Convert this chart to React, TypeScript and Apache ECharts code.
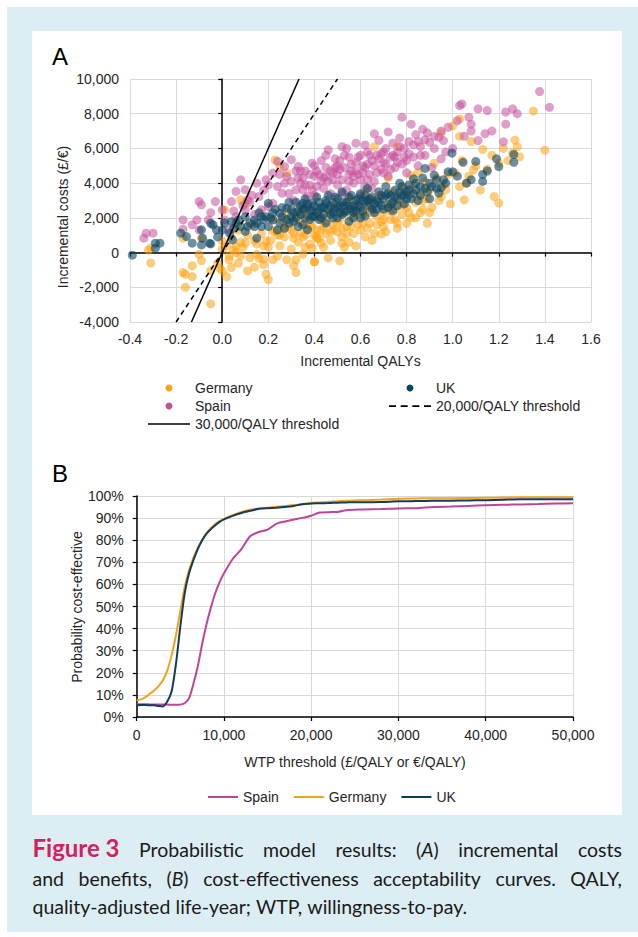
import React, { useEffect, useRef } from "react";
import * as echarts from "echarts";

// ---------- Panel A data: incremental QALYs vs incremental costs ----------
const germanyPoints: number[][] = [
  [-0.32,150],[-0.31,-600],[-0.31,270],[-0.17,830],[-0.17,-1150],[-0.16,-1250],[-0.16,-2000],[-0.13,-1380],[-0.13,-760],[-0.1,-100],
  [-0.09,-460],[-0.09,830],[-0.05,-1040],[-0.05,-2950],[-0.02,-610],[-0.01,-900],[0.0,190],[0.0,670],[0.0,-1060],[0.01,2460],
  [0.02,-1380],[0.02,400],[0.03,-420],[0.03,-190],[0.04,-860],[0.04,900],[0.05,150],[0.06,350],[0.06,0],[0.07,-610],
  [0.07,1300],[0.08,-190],[0.08,3040],[0.09,300],[0.1,560],[0.1,2840],[0.11,-1060],[0.11,1000],[0.12,-300],[0.13,1600],
  [0.14,-840],[0.15,-100],[0.15,500],[0.16,-340],[0.17,1100],[0.18,380],[0.18,-380],[0.18,-700],[0.19,670],[0.19,-1250],
  [0.2,-1570],[0.21,700],[0.22,-420],[0.22,1220],[0.22,1900],[0.23,1300],[0.23,5340],[0.24,1020],[0.24,-200],[0.25,400],
  [0.25,4960],[0.26,1800],[0.27,900],[0.27,1400],[0.28,-420],[0.28,2200],[0.28,4580],[0.29,1500],[0.3,200],[0.31,1100],
  [0.31,830],[0.31,-760],[0.32,-420],[0.32,-1150],[0.33,600],[0.33,2500],[0.34,1700],[0.34,1120],[0.35,-100],[0.36,1000],
  [0.36,300],[0.37,2100],[0.37,1400],[0.38,500],[0.39,1500],[0.39,250],[0.4,-540],[0.4,-520],[0.41,1300],[0.41,930],
  [0.41,830],[0.42,800],[0.42,2100],[0.43,1900],[0.43,540],[0.44,300],[0.44,1500],[0.45,1100],[0.46,2300],[0.46,-300],
  [0.47,700],[0.48,1600],[0.48,1320],[0.49,2700],[0.5,1200],[0.51,1900],[0.51,-480],[0.52,900],[0.52,540],[0.53,2400],
  [0.53,300],[0.54,1500],[0.55,600],[0.55,3100],[0.56,2000],[0.57,1100],[0.58,2800],[0.58,380],[0.59,1600],[0.6,1300],
  [0.61,2200],[0.62,900],[0.62,3500],[0.63,2600],[0.63,1400],[0.64,1700],[0.65,3000],[0.65,700],[0.66,1100],[0.66,6100],
  [0.67,2100],[0.68,3300],[0.69,1800],[0.69,1070],[0.7,2300],[0.7,1500],[0.71,1200],[0.72,2800],[0.72,4300],[0.73,1900],
  [0.74,3500],[0.75,2500],[0.76,1400],[0.76,1690],[0.76,6100],[0.77,3000],[0.78,2200],[0.79,3700],[0.8,2600],[0.8,1690],
  [0.81,3300],[0.82,2000],[0.82,4450],[0.83,3900],[0.84,2900],[0.85,4600],[0.86,3400],[0.86,2300],[0.87,2500],[0.88,4100],
  [0.89,3100],[0.89,1690],[0.9,3600],[0.91,2600],[0.92,5150],[0.93,4300],[0.94,3000],[0.95,3230],[0.95,6900],[0.96,3900],
  [0.97,3620],[0.98,4500],[0.99,2800],[1.0,7300],[1.01,4600],[1.03,3800],[1.03,6700],[1.03,7700],[1.04,5300],[1.05,3040],
  [1.06,4000],[1.07,4400],[1.08,6400],[1.09,4770],[1.1,5000],[1.12,3600],[1.13,5950],[1.15,4800],[1.17,5600],[1.18,3230],
  [1.2,2850],[1.2,5150],[1.22,6000],[1.24,5300],[1.26,5750],[1.27,6480],[1.28,6100],[1.29,5520],[1.35,8150],[1.4,5900],
  [0.3,1300],[0.32,1900],[0.35,900],[0.38,1600],[0.4,1000],[0.43,1300],[0.45,1800],[0.47,1200],[0.5,1700],[0.52,1400],
  [0.54,1100],[0.56,1500],[0.59,2200],[0.61,1700],[0.64,2300],[0.67,1600],[0.7,1900],[0.73,2400],[0.75,1900],[0.78,2700],
  [0.81,2300],[0.84,2000],[0.87,3000],[0.9,2300],[0.25,1000],[0.2,300],[0.14,700],[0.08,600],[0.35,2200],[0.57,2400]
];

const spainPoints: number[][] = [
  [-0.34,830],[-0.33,1120],[-0.3,1120],[-0.17,1880],[-0.17,1350],[-0.13,1600],[-0.1,2940],[-0.09,2750],[-0.11,1880],[-0.1,1300],
  [-0.06,1880],[-0.03,2940],[0.0,2460],[0.04,2940],[0.01,1880],[0.03,1300],[0.06,2070],[0.08,4190],[0.06,3520],[0.1,3620],
  [0.11,3040],[0.1,2460],[0.15,4000],[0.16,3230],[0.19,4190],[0.24,5250],[0.27,4960],[0.3,5350],[0.22,4580],[0.28,4390],
  [0.33,4960],[0.34,4000],[0.39,5150],[0.4,4390],[0.32,3620],[0.26,3420],[0.22,2840],[0.2,2650],[0.17,2460],[0.37,3230],
  [0.41,3810],[0.37,2650],[0.31,3000],[0.33,4300],[0.35,3600],[0.36,4700],[0.38,3900],[0.4,3300],[0.42,4500],[0.43,5300],
  [0.44,3700],[0.45,4900],[0.46,4100],[0.46,5920],[0.47,3400],[0.48,4600],[0.49,5400],[0.5,3900],[0.51,4800],[0.52,4200],
  [0.53,5600],[0.54,6000],[0.54,3600],[0.55,4500],[0.56,5100],[0.57,4000],[0.58,6300],[0.58,4700],[0.59,5500],[0.6,4200],
  [0.61,5000],[0.62,3800],[0.63,5800],[0.64,4500],[0.65,5300],[0.66,6840],[0.66,4100],[0.67,5600],[0.68,6470],[0.69,4800],
  [0.7,5200],[0.71,6000],[0.72,6950],[0.72,4400],[0.73,5500],[0.74,6300],[0.75,4900],[0.76,5800],[0.77,6600],[0.78,7800],
  [0.78,5100],[0.79,6000],[0.8,4600],[0.81,6400],[0.82,7400],[0.83,5500],[0.84,6800],[0.85,5000],[0.86,6100],[0.87,7100],
  [0.88,5600],[0.9,6350],[0.91,4900],[0.92,6000],[0.94,6650],[0.95,5400],[0.96,6450],[0.98,7220],[1.0,6000],[1.03,8470],
  [1.04,8560],[1.07,7800],[1.08,7400],[1.08,7000],[1.11,8280],[1.11,6450],[1.14,6850],[1.15,8180],[1.17,7000],[1.22,6380],
  [1.23,7400],[1.23,8100],[1.26,8280],[1.28,8000],[1.377,9280],[1.42,8370],[1.05,6700],[1.02,7600],[0.97,5800],[0.89,6900],
  [0.5,5000],[0.44,4300],[0.4,5000],[0.36,3900],[0.52,3400],[0.57,4400],[0.6,3300],[0.62,4900],[0.65,3700],[0.69,5700],
  [0.75,5500],[0.8,5300],[0.24,3800],[0.29,3400],[0.18,3600],[0.12,2900],[0.14,2200],[0.05,2400],[0.27,4000],[0.34,4700],
  [0.47,4700],[0.55,5500],[0.63,4200],[0.7,4600],[0.85,6400],
  [0.3,4100],[0.32,4700],[0.35,4300],[0.38,4500],[0.39,3600],[0.41,4700],[0.43,4100],[0.45,4400],[0.48,4200],[0.49,4900],
  [0.5,4500],[0.51,5300],[0.53,4900],[0.55,4100],[0.56,4700],[0.58,5200],[0.59,4500],[0.6,5600],[0.61,4600],[0.63,5100],
  [0.64,5600],[0.66,5000],[0.67,4600],[0.68,5400],[0.7,5800],[0.71,5100],[0.73,4800],[0.74,5600],[0.76,5200],[0.77,6100],
  [0.79,5500],[0.81,5700],[0.83,6200],[0.86,5600],[0.88,6500],[0.92,6700],[0.95,7000],[0.2,3900],[0.25,4500],[0.13,3300],
  [0.09,2700],[-0.05,2300],[0.45,5600],[0.52,6100],[0.62,6200]
];

const ukPoints: number[][] = [
  [-0.39,-150],[-0.29,250],[-0.29,540],[-0.27,540],[-0.18,1120],[-0.155,920],[-0.13,540],[-0.09,1310],[-0.085,830],[-0.09,440],
  [-0.055,540],[-0.05,500],[-0.05,1690],[-0.04,1600],[-0.025,1310],[0.0,1300],[0.01,1700],[0.032,1120],[0.04,1780],[0.045,730],
  [0.06,1690],[0.07,1880],[0.1,2070],[0.1,1220],[0.14,1500],[0.14,1880],[0.15,830],[0.17,2070],[0.17,1500],[0.19,2070],
  [0.2,2840],[0.22,1880],[0.24,1300],[0.25,2260],[0.26,2070],[0.28,2550],[0.29,1700],[0.3,2460],[0.3,2070],[0.33,2360],
  [0.35,2840],[0.36,2550],[0.37,1310],[0.39,2840],[0.39,2070],[0.4,2070],[0.42,2460],[0.45,2840],[0.31,1800],[0.32,2900],
  [0.34,2200],[0.35,1600],[0.36,3100],[0.38,2400],[0.4,2700],[0.41,3200],[0.43,2000],[0.44,2600],[0.46,3300],[0.47,2200],
  [0.48,2900],[0.49,2500],[0.5,3100],[0.5,2000],[0.51,2700],[0.52,3500],[0.53,2300],[0.54,2900],[0.55,3200],[0.56,2500],
  [0.57,2000],[0.58,3000],[0.59,2700],[0.6,3400],[0.61,2400],[0.62,2900],[0.63,3700],[0.64,2700],[0.65,3200],[0.66,2300],
  [0.67,3000],[0.68,3500],[0.69,2700],[0.7,3100],[0.71,3800],[0.72,2600],[0.73,3300],[0.74,2900],[0.75,3600],[0.76,3100],
  [0.77,4000],[0.78,3300],[0.79,2800],[0.8,3500],[0.81,3900],[0.82,3100],[0.83,4250],[0.84,3600],[0.85,3000],[0.86,3800],
  [0.87,4300],[0.88,4850],[0.89,3500],[0.9,4000],[0.92,4450],[0.93,3700],[0.94,3430],[0.95,3750],[0.96,4200],[0.98,4650],
  [1.0,4650],[0.997,5730],[1.045,5200],[1.1,5250],[1.19,5400],[1.265,5650],[1.265,5200],[1.2,4950],[1.13,4500],[1.13,4100],
  [1.08,4200],[1.06,4000],[1.02,4400],[1.15,4700],[0.9,3100],[0.55,1800],[0.45,1700],[0.6,2000],[0.25,1700],[0.2,1500],
  [0.22,2300],[0.12,1700],[0.08,1500],[0.27,1400],[0.33,1500],[0.42,1900],[0.47,2700],[0.52,2200],[0.57,2700],[0.62,2100],
  [0.67,2500],[0.72,3400],[0.74,2400],[0.78,3800],[0.63,3000],[0.58,2400],[0.53,2700],[0.48,2300],[0.43,2600],[0.38,1900],
  [0.35,2500],
  [0.26,2600],[0.28,1900],[0.29,2900],[0.31,2300],[0.32,2000],[0.34,2700],[0.36,2000],[0.37,2800],[0.39,2400],[0.41,2300],
  [0.42,2900],[0.44,2200],[0.45,3000],[0.46,2500],[0.48,2000],[0.49,3200],[0.5,2600],[0.51,2300],[0.52,2900],[0.54,2400],
  [0.55,2700],[0.56,3300],[0.57,2300],[0.59,3100],[0.6,2600],[0.61,3000],[0.62,3300],[0.64,3100],[0.65,2500],[0.66,2800],
  [0.68,2900],[0.69,3300],[0.7,2500],[0.71,3300],[0.73,2800],[0.75,3200],[0.76,2700],[0.77,3500],[0.79,3300],[0.8,3100],
  [0.81,3600],[0.83,3400],[0.84,4000],[0.86,3300],[0.88,3700],[0.91,3800],[0.93,4200],[0.97,4000],[0.15,1700],[0.18,1900],
  [0.05,1400],[-0.02,900],[0.11,1500],[0.16,2300],[0.21,2000],[0.23,2500]
];

const thresholdValues = [20000, 30000];
const thresholdNames = ["20,000/QALY threshold", "30,000/QALY threshold"];
const costRange = [-4000, 10000];

// ---------- Panel B data: cost-effectiveness acceptability curves ----------
const wtp = [0,500,1000,1500,2000,2500,3000,3500,4000,4500,5000,5500,6000,6500,7000,7500,8000,8500,9000,9500,10000,
  11000,12000,13000,14000,15000,16000,17000,18000,19000,20000,21000,22000,23000,24000,25000,26000,28000,30000,
  32000,34000,36000,38000,40000,42000,44000,46000,48000,50000];
const spainCeac = [5.8,5.8,5.8,5.7,5.7,5.7,5.6,5.6,5.5,5.5,5.6,6.2,8.5,15,23,33,42,49.5,56,61,65,
  71.5,76,81.8,83.7,84.8,87.4,88.5,89.4,90.1,91.1,92.5,92.7,92.8,93.6,93.8,93.9,94.1,94.4,
  94.5,95.0,95.2,95.5,95.8,96.0,96.2,96.4,96.6,96.7];
const germanyCeac = [7.5,8,9,10.5,12,14,16.5,21,28,37,48,59,66.5,72,76.5,80,83,85.5,87.3,88.6,89.6,
  91.3,92.8,93.8,94.3,94.7,95.1,95.5,95.9,96.3,96.8,97.1,97.4,97.6,97.8,98.0,98.1,98.4,98.8,
  98.9,99.0,99.0,99.1,99.2,99.3,99.4,99.4,99.4,99.4];
const ukCeac = [5.3,5.4,5.4,5.3,5.3,5.0,4.8,7.0,11.5,24,41,56,65,71,76,80,83,85,86.8,88.3,89.4,
  91,92.3,93.3,94.2,94.5,94.7,95,95.5,96.3,96.6,96.7,96.8,97.0,97.1,97.2,97.2,97.3,97.6,
  97.7,97.8,97.9,98.0,98.1,98.3,98.5,98.5,98.5,98.5];

// ---------- Caption ----------
type Seg = [string, "n" | "i" | "b"];
const captionLines: { justify: boolean; words: Seg[][] }[] = [
  { justify: true, words: [[["Figure 3", "b"]], [["Probabilistic", "n"]], [["model", "n"]], [["results:", "n"]],
    [["(", "n"], ["A", "i"], [")", "n"]], [["incremental", "n"]], [["costs", "n"]]] },
  { justify: true, words: [[["and", "n"]], [["benefits,", "n"]], [["(", "n"], ["B", "i"], [")", "n"]],
    [["cost-effectiveness", "n"]], [["acceptability", "n"]], [["curves.", "n"]], [["QALY,", "n"]]] },
  { justify: false, words: [[["quality-adjusted", "n"]], [["life-year;", "n"]], [["WTP,", "n"]], [["willingness-to-pay.", "n"]]] },
];

const FONT = "'Liberation Sans', Arial, Helvetica, sans-serif";
const CAP_FONT = "Lato, 'Open Sans', sans-serif";
const CAP_SIZE = 19.5;
const FIG_SIZE = 24;
const LABEL = "#262626";
const GRIDC = "#d9d9d9";

const COLORS = { germany: "#FDA313", spain: "#C4509A", uk: "#0B4561" };
const LINE_COLORS = { spain: "#C2449A", germany: "#F9A11B", uk: "#103D5C" };

const SOLID_ICON = "path://M0,0H42V1.5H0Z";
const DASHED_ICON = "path://M0,0H6V1.5H0Z M10,0H16V1.5H10Z M20,0H26V1.5H20Z M30,0H36V1.5H30Z";

function fmtThousands(v: number) {
  return Math.round(v).toLocaleString("en-US");
}

function buildOptionA(): any {
  const thresholdSeries = thresholdValues.map((t, i) => ({
    name: thresholdNames[i],
    type: "line",
    xAxisIndex: 0,
    yAxisIndex: 0,
    data: costRange.map((c) => [c / t, c]),
    symbol: "none",
    symbolKeepAspect: true,
    z: 5,
    lineStyle: { color: "#000", width: 1.5, type: t === 20000 ? [5, 4] : "solid" },
    itemStyle: { color: "#000" },
  }));
  const scatter = (name: string, data: number[][], color: string, opacity: number) => ({
    name,
    type: "scatter",
    xAxisIndex: 0,
    yAxisIndex: 0,
    data,
    symbol: "circle",
    symbolSize: 9,
    z: 2,
    itemStyle: { color, opacity },
  });
  const legendCommon = {
    orient: "vertical", top: 381,
    itemWidth: 42, itemHeight: 7, itemGap: 4, padding: 0, selectedMode: false,
    textStyle: { fontSize: 14, color: LABEL, fontFamily: FONT }, itemStyle: { opacity: 1, borderWidth: 0 },
  };
  return {
    animation: false,
    textStyle: { fontFamily: FONT },
    grid: { left: 130, top: 79, width: 461, height: 243, outerBoundsMode: "none", containLabel: false },
    xAxis: [
      {
        type: "value", min: -0.4, max: 1.6, interval: 0.2, position: "bottom",
        axisLine: { show: true, onZero: true, onZeroAxisIndex: 0, lineStyle: { color: "#000", width: 1.5 } },
        axisTick: { show: true, length: 4, lineStyle: { color: "#000", width: 1.2 } },
        axisLabel: { show: false },
        splitLine: { show: true, lineStyle: { color: GRIDC, width: 1 } },
      },
      {
        type: "value", min: -0.4, max: 1.6, interval: 0.2, position: "bottom",
        axisLine: { show: false, onZero: false }, axisTick: { show: false }, splitLine: { show: false },
        axisLabel: {
          margin: 10, fontSize: 14, color: LABEL, fontFamily: FONT,
          formatter: (v: number) => (Math.abs(v) < 1e-9 ? "0.0" : v.toFixed(1)),
        },
      },
    ],
    yAxis: [
      {
        type: "value", min: -4000, max: 10000, interval: 2000, position: "left",
        axisLine: { show: true, onZero: true, onZeroAxisIndex: 0, lineStyle: { color: "#000", width: 1.5 } },
        axisTick: { show: true, length: 4, lineStyle: { color: "#000", width: 1.2 } },
        axisLabel: { show: false },
        splitLine: { show: true, lineStyle: { color: GRIDC, width: 1 } },
      },
      {
        type: "value", min: -4000, max: 10000, interval: 2000, position: "left",
        axisLine: { show: false, onZero: false }, axisTick: { show: false }, splitLine: { show: false },
        axisLabel: { margin: 11, fontSize: 14, color: LABEL, fontFamily: FONT, formatter: fmtThousands },
      },
    ],
    legend: [
      {
        ...legendCommon, left: 148,
        data: [{ name: "Germany" }, { name: "Spain" }, { name: thresholdNames[1], icon: SOLID_ICON }],
      },
      {
        ...legendCommon, left: 389,
        data: [{ name: "UK" }, { name: thresholdNames[0], icon: DASHED_ICON }],
      },
    ],
    graphic: [
      { type: "text", x: 52, y: 56, style: { text: "A", fontSize: 24, fill: "#000", fontFamily: FONT, verticalAlign: "middle" } },
      { type: "text", x: 360.5, y: 361, style: { text: "Incremental QALYs", fontSize: 14, fill: LABEL, fontFamily: FONT, align: "center", verticalAlign: "middle" } },
      { type: "text", x: 63, y: 217, rotation: Math.PI / 2, style: { text: "Incremental costs (£/€)", fontSize: 14, fill: LABEL, fontFamily: FONT, align: "center", verticalAlign: "middle" } },
    ],
    series: [
      scatter("Germany", germanyPoints, COLORS.germany, 0.55),
      scatter("Spain", spainPoints, COLORS.spain, 0.55),
      scatter("UK", ukPoints, COLORS.uk, 0.6),
      ...thresholdSeries,
    ],
  };
}

function buildCaption(offsetY: number): any[] {
  const canvas = document.createElement("canvas");
  const ctx = canvas.getContext("2d") as CanvasRenderingContext2D;
  const fontOf = (s: string) =>
    s === "b" ? `bold ${FIG_SIZE}px ${CAP_FONT}` : s === "i" ? `italic ${CAP_SIZE}px ${CAP_FONT}` : `${CAP_SIZE}px ${CAP_FONT}`;
  const measure = (t: string, s: string) => {
    ctx.font = fontOf(s);
    return ctx.measureText(t).width;
  };
  const left = 32.5;
  const right = 622;
  const lineY = [849, 878, 906.5];
  const els: any[] = [];
  captionLines.forEach((line, li) => {
    const widths = line.words.map((w) => w.reduce((acc, [t, s]) => acc + measure(t, s), 0));
    const total = widths.reduce((a, b) => a + b, 0);
    const gap = line.justify ? (right - left - total) / (line.words.length - 1) : measure(" ", "n") * 1.05;
    let x = left;
    line.words.forEach((w, wi) => {
      let sx = x;
      w.forEach(([t, s]) => {
        els.push({
          type: "text",
          x: sx,
          y: lineY[li] - offsetY + (s === "b" ? -1.5 : 0),
          style: {
            text: t,
            fontFamily: CAP_FONT,
            fontSize: s === "b" ? FIG_SIZE : CAP_SIZE,
            fontWeight: s === "b" ? "bold" : "normal",
            fontStyle: s === "i" ? "italic" : "normal",
            fill: s === "b" ? "#D4215C" : "#1a1a1a",
            verticalAlign: "middle",
            align: "left",
          },
        });
        sx += measure(t, s);
      });
      x += widths[wi] + gap;
    });
  });
  return els;
}

function buildOptionB(offsetY: number): any {
  const mk = (name: string, vals: number[], color: string) => ({
    name,
    type: "line",
    data: wtp.map((w, i) => [w, vals[i]]),
    symbol: "none",
    smooth: 0.25,
    lineStyle: { color, width: 2 },
    itemStyle: { color },
  });
  return {
    animation: false,
    textStyle: { fontFamily: FONT },
    grid: { left: 136.7, top: 496 - offsetY, width: 436.3, height: 221, outerBoundsMode: "none", containLabel: false },
    xAxis: {
      type: "value", min: 0, max: 50000, interval: 10000,
      axisLine: { show: true, onZero: false, lineStyle: { color: "#000", width: 1.5 } },
      axisTick: { show: true, length: 4, lineStyle: { color: "#000", width: 1.2 } },
      axisLabel: { margin: 11, fontSize: 14, color: LABEL, fontFamily: FONT, formatter: fmtThousands },
      splitLine: { show: true, lineStyle: { color: GRIDC, width: 1 } },
    },
    yAxis: {
      type: "value", min: 0, max: 100, interval: 10,
      axisLine: { show: true, onZero: false, lineStyle: { color: "#000", width: 1.5 } },
      axisTick: { show: true, length: 4, lineStyle: { color: "#000", width: 1.2 } },
      axisLabel: { margin: 13, fontSize: 14, color: LABEL, fontFamily: FONT, formatter: "{value}%" },
      splitLine: { show: true, lineStyle: { color: GRIDC, width: 1 } },
    },
    legend: {
      data: ["Spain", "Germany", "UK"], orient: "horizontal", left: 208, top: 790 - offsetY,
      icon: "rect", itemWidth: 30, itemHeight: 2, itemGap: 15, padding: 0, selectedMode: false,
      textStyle: { fontSize: 14, color: LABEL, fontFamily: FONT },
    },
    graphic: [
      { type: "text", x: 52, y: 473 - offsetY, style: { text: "B", fontSize: 24, fill: "#000", fontFamily: FONT, verticalAlign: "middle" } },
      { type: "text", x: 355, y: 762 - offsetY, style: { text: "WTP threshold (£/QALY or €/QALY)", fontSize: 14, fill: LABEL, fontFamily: FONT, align: "center", verticalAlign: "middle" } },
      { type: "text", x: 77, y: 607 - offsetY, rotation: Math.PI / 2, style: { text: "Probability cost-effective", fontSize: 14, fill: LABEL, fontFamily: FONT, align: "center", verticalAlign: "middle" } },
      ...buildCaption(offsetY),
    ],
    series: [
      mk("Spain", spainCeac, LINE_COLORS.spain),
      mk("Germany", germanyCeac, LINE_COLORS.germany),
      mk("UK", ukCeac, LINE_COLORS.uk),
    ],
  };
}

const B_TOP = 440;

export default function App() {
  const refA = useRef<HTMLDivElement>(null);
  const refB = useRef<HTMLDivElement>(null);
  useEffect(() => {
    const a = echarts.init(refA.current as HTMLDivElement, null, { renderer: "svg" });
    a.setOption(buildOptionA());
    const b = echarts.init(refB.current as HTMLDivElement, null, { renderer: "svg" });
    b.setOption(buildOptionB(B_TOP));
    return () => {
      a.dispose();
      b.dispose();
    };
  }, []);
  return (
    <div style={{ position: "absolute", left: 0, top: 0, width: 638, height: 937, background: "#fff", overflow: "hidden" }}>
      <div style={{ position: "absolute", left: 7, top: 7, width: 631, height: 925, background: "#dcedf3" }} />
      <div style={{ position: "absolute", left: 32, top: 31, width: 590, height: 784, background: "#fff" }} />
      <div ref={refA} style={{ position: "absolute", left: 0, top: 0, width: 638, height: B_TOP }} />
      <div ref={refB} style={{ position: "absolute", left: 0, top: B_TOP, width: 638, height: 937 - B_TOP }} />
    </div>
  );
}
